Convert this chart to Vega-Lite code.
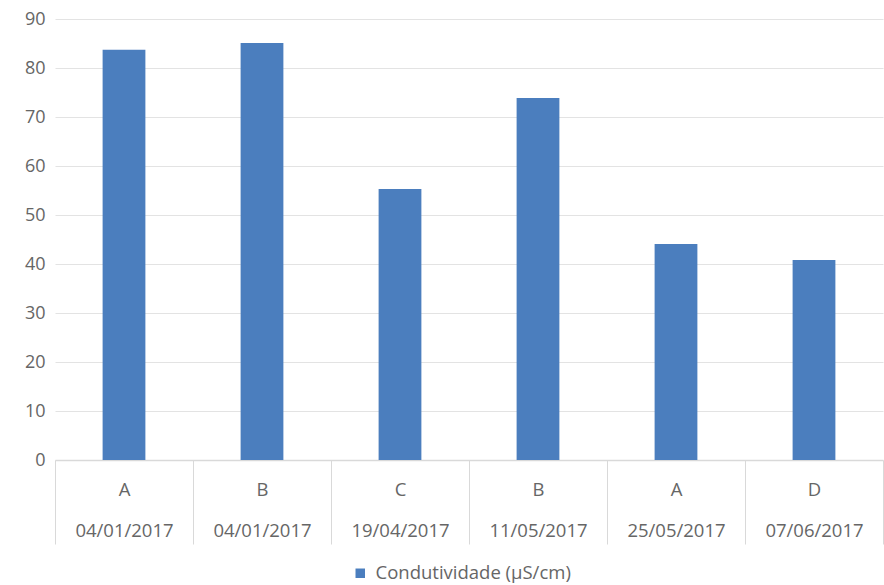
{
  "$schema": "https://vega.github.io/schema/vega-lite/v6.json",
  "width": 828,
  "height": 441,
  "autosize": "none",
  "padding": {"left": 55, "top": 19, "right": 1, "bottom": 125},
  "background": "white",
  "config": {
    "view": {"stroke": null},
    "font": "Open Sans"
  },
  "data": {
    "values": [
      {"cat": "A|04/01/2017", "series": "Condutividade (µS/cm)", "value": 83.7},
      {"cat": "B|04/01/2017 ", "series": "Condutividade (µS/cm)", "value": 85.1},
      {"cat": "C|19/04/2017", "series": "Condutividade (µS/cm)", "value": 55.3},
      {"cat": "B|11/05/2017", "series": "Condutividade (µS/cm)", "value": 73.9},
      {"cat": "A|25/05/2017", "series": "Condutividade (µS/cm)", "value": 44.1},
      {"cat": "D|07/06/2017", "series": "Condutividade (µS/cm)", "value": 40.8}
    ]
  },
  "mark": {"type": "bar", "width": {"band": 0.31}},
  "encoding": {
    "x": {
      "field": "cat",
      "type": "nominal",
      "sort": null,
      "scale": {"paddingInner": 0, "paddingOuter": 0},
      "axis": {
        "title": null,
        "labelAngle": 0,
        "labelExpr": "split(datum.label, '|')",
        "labelLineHeight": 41,
        "labelFontSize": 18.5,
        "labelColor": "#666666",
        "labelPadding": -64,
        "labelBaseline": "top",
        "tickBand": "extent",
        "tickSize": 84,
        "tickColor": "#d9d9d9",
        "domainColor": "#d9d9d9",
        "domainWidth": 1.5
      }
    },
    "y": {
      "field": "value",
      "type": "quantitative",
      "scale": {"domain": [0, 90], "nice": false},
      "axis": {
        "title": null,
        "values": [0, 10, 20, 30, 40, 50, 60, 70, 80, 90],
        "domain": false,
        "ticks": false,
        "labelFontSize": 18,
        "labelColor": "#666666",
        "labelPadding": 10,
        "gridColor": "#e3e3e3",
        "gridWidth": 1.2
      }
    },
    "color": {
      "field": "series",
      "type": "nominal",
      "scale": {"range": ["#4b7ebe"]},
      "legend": {
        "title": null,
        "orient": "none",
        "legendX": 296,
        "legendY": 545,
        "padding": 0,
        "symbolType": "square",
        "symbolSize": 90,
        "labelOffset": 6,
        "labelLimit": 400,
        "labelFontSize": 18.5,
        "labelColor": "#666666"
      }
    }
  }
}
